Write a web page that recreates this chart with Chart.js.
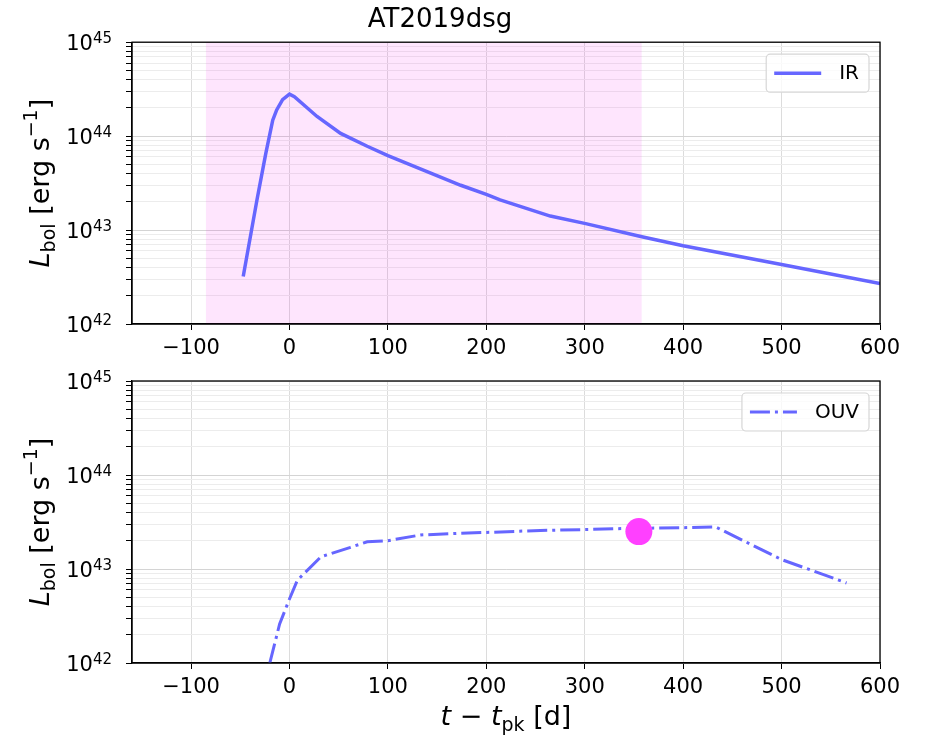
<!DOCTYPE html>
<html>
<head>
<meta charset="utf-8">
<script src="https://cdn.jsdelivr.net/npm/chart.js@4.4.1/dist/chart.umd.min.js"></script>
<style>
    html, body { margin: 0; padding: 0; background: #fff; }
    #wrap { position: relative; width: 927px; height: 735px; }
    canvas { position: absolute; left: 0; top: 0; }
</style>
</head>
<body>
<div id="wrap">
    <canvas id="ir-chart" width="927" height="735"></canvas>
    <canvas id="ouv-chart" width="927" height="735"></canvas>
</div>
<script>
const chartTitle = 'AT2019dsg';
const xTickValues = [-100, 0, 100, 200, 300, 400, 500, 600];
const yDecades = [1e42, 1e43, 1e44, 1e45];

// IR light curve (days from peak, erg/s)
const irDays = [-47, -33, -24, -17, -13, -7, 0, 5, 28, 52, 79, 100, 174, 200, 214, 265, 301, 358, 400, 500, 600];
const irLum = [3.2e42, 2.1e43, 6.6e43, 1.48e44, 1.9e44, 2.45e44, 2.8e44, 2.63e44, 1.62e44, 1.07e44, 7.8e43, 6.2e43, 3.0e43, 2.4e43, 2.1e43, 1.41e43, 1.17e43, 8.5e42, 6.8e42, 4.3e42, 2.7e42];

// OUV light curve
const ouvDays = [-20, -10, 0, 8, 32, 62, 79, 100, 133, 174, 200, 255, 301, 343, 400, 433, 500, 529, 566];
const ouvLum = [1.0e42, 2.6e42, 4.8e42, 7.6e42, 1.35e43, 1.7e43, 1.95e43, 2.0e43, 2.3e43, 2.4e43, 2.45e43, 2.57e43, 2.63e43, 2.7e43, 2.75e43, 2.8e43, 1.26e43, 9.8e42, 7.1e42];

// shaded window on IR panel and marker on OUV panel
const shadeDays = [-85, 358];
const dotDays = [355];
const dotLum = [2.5e43];

const FONT = '"DejaVu Sans", sans-serif';
const lineBlue = '#6666ff';

function isDecade(v) {
    const l = Math.log10(v);
    return Math.abs(l - Math.round(l)) < 1e-6;
}

// minor + major log ticks: 1..9 x 10^n
const yTickValues = [];
for (let i = 0; i < yDecades.length - 1; i++) {
    for (let m = 1; m <= 9; m++) yTickValues.push(m * yDecades[i]);
}
yTickValues.push(yDecades[yDecades.length - 1]);

function toPoints(xs, ys) {
    return xs.map((x, i) => ({ x: x, y: ys[i] }));
}

// draws a label made of pieces (italic letters, sub/superscripts)
function drawRich(ctx, parts, size, x, y) {
    const fontFor = p => `${p.it ? 'italic ' : ''}${Math.round(size * (p.s || 1))}px ${FONT}`;
    let total = 0;
    parts.forEach(p => { ctx.font = fontFor(p); total += ctx.measureText(p.t).width; });
    let cx = x - total / 2;
    ctx.textAlign = 'left';
    ctx.textBaseline = 'alphabetic';
    parts.forEach(p => {
        ctx.font = fontFor(p);
        ctx.fillText(p.t, cx, y + (p.dy || 0) * size);
        cx += ctx.measureText(p.t).width;
    });
}

const yLabelParts = [
    { t: 'L', it: true },
    { t: 'bol', s: 0.7, dy: 0.22 },
    { t: ' [erg s' },
    { t: '\u22121', s: 0.7, dy: -0.45 },
    { t: ']' }
];
const xLabelParts = [
    { t: 't', it: true },
    { t: ' \u2212 ' },
    { t: 't', it: true },
    { t: 'pk', s: 0.7, dy: 0.22 },
    { t: ' [d]' }
];

const axisText = {
    id: 'axisText',
    afterDraw(chart, args, opts) {
        const ctx = chart.ctx;
        const area = chart.chartArea;
        const yScale = chart.scales.y;
        ctx.save();
        ctx.fillStyle = '#000';
        // y tick labels as 10^n
        yDecades.forEach(v => {
            const py = yScale.getPixelForValue(v);
            const exp = String(Math.round(Math.log10(v)));
            ctx.font = `15px ${FONT}`;
            const ew = ctx.measureText(exp).width;
            const right = area.left - 20;
            ctx.textAlign = 'left';
            ctx.textBaseline = 'alphabetic';
            ctx.fillText(exp, right - ew, py + 1);
            ctx.font = `21px ${FONT}`;
            ctx.textAlign = 'right';
            ctx.fillText('10', right - ew, py + 8);
        });
        // y axis title
        ctx.save();
        ctx.translate(49, (area.top + area.bottom) / 2);
        ctx.rotate(-Math.PI / 2);
        drawRich(ctx, yLabelParts, 27, 0, 0);
        ctx.restore();
        if (opts.xLabel) {
            drawRich(ctx, xLabelParts, 27, (area.left + area.right) / 2, 725);
        }
        ctx.restore();
    }
};

const frameAndLegend = {
    id: 'frameAndLegend',
    afterDatasetsDraw(chart) {
        const ctx = chart.ctx;
        const area = chart.chartArea;
        ctx.save();
        ctx.strokeStyle = '#000';
        ctx.lineWidth = 1.3;
        ctx.strokeRect(area.left, area.top, area.right - area.left, area.bottom - area.top);

        const items = chart.data.datasets.filter(d => d.label);
        items.forEach((d, i) => {
            ctx.font = `20px ${FONT}`;
            const tw = ctx.measureText(d.label).width;
            const w = 8 + 47 + 18 + tw + 10;
            const h = 38;
            const bx = area.right - 11 - w;
            const by = area.top + 12 + i * h;
            ctx.beginPath();
            ctx.roundRect(bx, by, w, h, 4);
            ctx.fillStyle = 'rgba(255,255,255,0.8)';
            ctx.fill();
            ctx.strokeStyle = '#d6d6d6';
            ctx.lineWidth = 1.2;
            ctx.stroke();
            ctx.beginPath();
            ctx.setLineDash(d.borderDash || []);
            ctx.strokeStyle = d.borderColor;
            ctx.lineWidth = d.borderWidth;
            ctx.moveTo(bx + 8, by + h / 2);
            ctx.lineTo(bx + 8 + 47, by + h / 2);
            ctx.stroke();
            ctx.setLineDash([]);
            ctx.fillStyle = '#000';
            ctx.textAlign = 'left';
            ctx.textBaseline = 'middle';
            ctx.fillText(d.label, bx + 8 + 47 + 18, by + h / 2 + 1);
        });
        ctx.restore();
    }
};

function makeScales() {
    return {
        x: {
            type: 'linear',
            min: -160,
            max: 600,
            afterBuildTicks: scale => { scale.ticks = xTickValues.map(v => ({ value: v })); },
            afterFit: scale => { scale.height = 40; },
            ticks: {
                autoSkip: false,
                maxRotation: 0,
                padding: 6,
                color: '#000',
                font: { family: FONT, size: 21 },
                callback: v => (v < 0 ? '\u2212' + Math.abs(v) : String(v))
            },
            grid: { color: '#dcdcdc', lineWidth: 1, tickColor: '#000', tickLength: 6 },
            border: { color: '#000', width: 1.3 }
        },
        y: {
            type: 'logarithmic',
            min: yDecades[0],
            max: yDecades[yDecades.length - 1],
            afterBuildTicks: scale => { scale.ticks = yTickValues.map(v => ({ value: v })); },
            afterFit: scale => { scale.width = 132; },
            ticks: { autoSkip: false, callback: () => '' },
            grid: {
                color: ctx => (ctx.tick && isDecade(ctx.tick.value) ? '#d4d4d4' : '#ececec'),
                lineWidth: 1,
                tickColor: '#000',
                tickLength: 6
            },
            border: { color: '#000', width: 1.3 }
        }
    };
}

const baseOptions = (padding, extra) => ({
    responsive: false,
    animation: false,
    devicePixelRatio: 1,
    layout: { padding: padding },
    scales: makeScales(),
    plugins: Object.assign({
        legend: { display: false },
        tooltip: { enabled: false }
    }, extra)
});

new Chart(document.getElementById('ir-chart'), {
    type: 'line',
    data: {
        datasets: [{
            label: 'IR',
            data: toPoints(irDays, irLum),
            borderColor: lineBlue,
            borderWidth: 3.5,
            pointRadius: 0,
            fill: false,
            tension: 0,
            order: 1
        }, {
            label: '',
            data: toPoints(shadeDays, [yDecades[3], yDecades[3]]),
            borderColor: 'rgba(0,0,0,0)',
            borderWidth: 0,
            backgroundColor: 'rgba(245,0,235,0.1)',
            pointRadius: 0,
            fill: 'start',
            order: 2
        }]
    },
    options: baseOptions({ left: 0, right: 47, top: 0, bottom: 735 - 324 - 40 }, {
        title: {
            display: true,
            text: chartTitle,
            color: '#000',
            font: { family: FONT, size: 26, weight: 'normal' },
            padding: { top: 5, bottom: 6 }
        },
        axisText: { xLabel: false }
    }),
    plugins: [axisText, frameAndLegend]
});

new Chart(document.getElementById('ouv-chart'), {
    type: 'line',
    data: {
        datasets: [{
            label: 'OUV',
            data: toPoints(ouvDays, ouvLum),
            borderColor: lineBlue,
            borderWidth: 3,
            borderDash: [20, 5, 3, 5],
            borderCapStyle: 'butt',
            pointRadius: 0,
            fill: false,
            tension: 0,
            order: 2
        }, {
            label: '',
            data: toPoints(dotDays, dotLum),
            showLine: false,
            pointRadius: 13.5,
            pointBackgroundColor: '#ff40ff',
            pointBorderWidth: 0,
            order: 1
        }]
    },
    options: baseOptions({ left: 0, right: 47, top: 381, bottom: 735 - 663 - 40 }, {
        title: { display: false },
        axisText: { xLabel: true }
    }),
    plugins: [axisText, frameAndLegend]
});
</script>
</body>
</html>
